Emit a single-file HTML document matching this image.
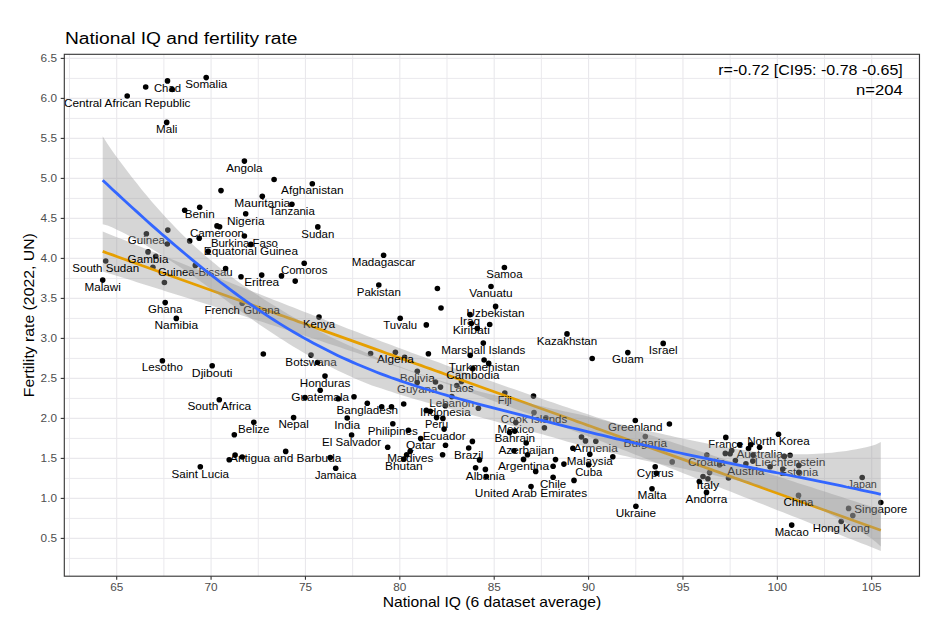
<!DOCTYPE html>
<html><head><meta charset="utf-8"><style>
html,body{margin:0;padding:0;background:#fff;}
svg{display:block;}
text{font-family:"Liberation Sans",sans-serif;}
</style></head><body>
<svg width="948" height="629" viewBox="0 0 948 629">
<rect x="0" y="0" width="948" height="629" fill="#fff"/>

<line x1="64.3" x2="919.5" y1="558.40" y2="558.40" stroke="#e9e8ec" stroke-width="0.95"/>
<line x1="64.3" x2="919.5" y1="538.40" y2="538.40" stroke="#e9e8ec" stroke-width="1.1"/>
<line x1="64.3" x2="919.5" y1="518.40" y2="518.40" stroke="#e9e8ec" stroke-width="0.95"/>
<line x1="64.3" x2="919.5" y1="498.40" y2="498.40" stroke="#e9e8ec" stroke-width="1.1"/>
<line x1="64.3" x2="919.5" y1="478.40" y2="478.40" stroke="#e9e8ec" stroke-width="0.95"/>
<line x1="64.3" x2="919.5" y1="458.40" y2="458.40" stroke="#e9e8ec" stroke-width="1.1"/>
<line x1="64.3" x2="919.5" y1="438.40" y2="438.40" stroke="#e9e8ec" stroke-width="0.95"/>
<line x1="64.3" x2="919.5" y1="418.40" y2="418.40" stroke="#e9e8ec" stroke-width="1.1"/>
<line x1="64.3" x2="919.5" y1="398.40" y2="398.40" stroke="#e9e8ec" stroke-width="0.95"/>
<line x1="64.3" x2="919.5" y1="378.40" y2="378.40" stroke="#e9e8ec" stroke-width="1.1"/>
<line x1="64.3" x2="919.5" y1="358.40" y2="358.40" stroke="#e9e8ec" stroke-width="0.95"/>
<line x1="64.3" x2="919.5" y1="338.40" y2="338.40" stroke="#e9e8ec" stroke-width="1.1"/>
<line x1="64.3" x2="919.5" y1="318.40" y2="318.40" stroke="#e9e8ec" stroke-width="0.95"/>
<line x1="64.3" x2="919.5" y1="298.40" y2="298.40" stroke="#e9e8ec" stroke-width="1.1"/>
<line x1="64.3" x2="919.5" y1="278.40" y2="278.40" stroke="#e9e8ec" stroke-width="0.95"/>
<line x1="64.3" x2="919.5" y1="258.40" y2="258.40" stroke="#e9e8ec" stroke-width="1.1"/>
<line x1="64.3" x2="919.5" y1="238.40" y2="238.40" stroke="#e9e8ec" stroke-width="0.95"/>
<line x1="64.3" x2="919.5" y1="218.40" y2="218.40" stroke="#e9e8ec" stroke-width="1.1"/>
<line x1="64.3" x2="919.5" y1="198.40" y2="198.40" stroke="#e9e8ec" stroke-width="0.95"/>
<line x1="64.3" x2="919.5" y1="178.40" y2="178.40" stroke="#e9e8ec" stroke-width="1.1"/>
<line x1="64.3" x2="919.5" y1="158.40" y2="158.40" stroke="#e9e8ec" stroke-width="0.95"/>
<line x1="64.3" x2="919.5" y1="138.40" y2="138.40" stroke="#e9e8ec" stroke-width="1.1"/>
<line x1="64.3" x2="919.5" y1="118.40" y2="118.40" stroke="#e9e8ec" stroke-width="0.95"/>
<line x1="64.3" x2="919.5" y1="98.40" y2="98.40" stroke="#e9e8ec" stroke-width="1.1"/>
<line x1="64.3" x2="919.5" y1="78.40" y2="78.40" stroke="#e9e8ec" stroke-width="0.95"/>
<line x1="64.3" x2="919.5" y1="58.40" y2="58.40" stroke="#e9e8ec" stroke-width="1.1"/>
<line x1="69.51" x2="69.51" y1="54.3" y2="576.2" stroke="#e9e8ec" stroke-width="0.95"/>
<line x1="116.70" x2="116.70" y1="54.3" y2="576.2" stroke="#e9e8ec" stroke-width="1.1"/>
<line x1="163.89" x2="163.89" y1="54.3" y2="576.2" stroke="#e9e8ec" stroke-width="0.95"/>
<line x1="211.07" x2="211.07" y1="54.3" y2="576.2" stroke="#e9e8ec" stroke-width="1.1"/>
<line x1="258.26" x2="258.26" y1="54.3" y2="576.2" stroke="#e9e8ec" stroke-width="0.95"/>
<line x1="305.45" x2="305.45" y1="54.3" y2="576.2" stroke="#e9e8ec" stroke-width="1.1"/>
<line x1="352.64" x2="352.64" y1="54.3" y2="576.2" stroke="#e9e8ec" stroke-width="0.95"/>
<line x1="399.82" x2="399.82" y1="54.3" y2="576.2" stroke="#e9e8ec" stroke-width="1.1"/>
<line x1="447.01" x2="447.01" y1="54.3" y2="576.2" stroke="#e9e8ec" stroke-width="0.95"/>
<line x1="494.20" x2="494.20" y1="54.3" y2="576.2" stroke="#e9e8ec" stroke-width="1.1"/>
<line x1="541.39" x2="541.39" y1="54.3" y2="576.2" stroke="#e9e8ec" stroke-width="0.95"/>
<line x1="588.58" x2="588.58" y1="54.3" y2="576.2" stroke="#e9e8ec" stroke-width="1.1"/>
<line x1="635.76" x2="635.76" y1="54.3" y2="576.2" stroke="#e9e8ec" stroke-width="0.95"/>
<line x1="682.95" x2="682.95" y1="54.3" y2="576.2" stroke="#e9e8ec" stroke-width="1.1"/>
<line x1="730.14" x2="730.14" y1="54.3" y2="576.2" stroke="#e9e8ec" stroke-width="0.95"/>
<line x1="777.33" x2="777.33" y1="54.3" y2="576.2" stroke="#e9e8ec" stroke-width="1.1"/>
<line x1="824.51" x2="824.51" y1="54.3" y2="576.2" stroke="#e9e8ec" stroke-width="0.95"/>
<line x1="871.70" x2="871.70" y1="54.3" y2="576.2" stroke="#e9e8ec" stroke-width="1.1"/>
<line x1="918.89" x2="918.89" y1="54.3" y2="576.2" stroke="#e9e8ec" stroke-width="0.95"/>
<defs><clipPath id="pc"><rect x="64.8" y="54.8" width="854.2" height="520.9"/></clipPath></defs><g clip-path="url(#pc)">
<circle cx="127.2" cy="96.0" r="2.8" fill="#000"/>
<circle cx="145.7" cy="87.0" r="2.8" fill="#000"/>
<circle cx="167.5" cy="80.9" r="2.8" fill="#000"/>
<circle cx="172.2" cy="89.5" r="2.8" fill="#000"/>
<circle cx="206.2" cy="77.6" r="2.8" fill="#000"/>
<circle cx="166.7" cy="122.4" r="2.8" fill="#000"/>
<circle cx="244.4" cy="161.1" r="2.8" fill="#000"/>
<circle cx="274.1" cy="179.5" r="2.8" fill="#000"/>
<circle cx="312.3" cy="183.7" r="2.8" fill="#000"/>
<circle cx="221.0" cy="190.6" r="2.8" fill="#000"/>
<circle cx="262.3" cy="196.3" r="2.8" fill="#000"/>
<circle cx="291.9" cy="204.3" r="2.8" fill="#000"/>
<circle cx="199.7" cy="207.3" r="2.8" fill="#000"/>
<circle cx="184.7" cy="210.3" r="2.8" fill="#000"/>
<circle cx="245.7" cy="213.8" r="2.8" fill="#000"/>
<circle cx="217.0" cy="225.9" r="2.8" fill="#000"/>
<circle cx="317.8" cy="226.9" r="2.8" fill="#000"/>
<circle cx="167.8" cy="230.1" r="2.8" fill="#000"/>
<circle cx="146.4" cy="233.7" r="2.8" fill="#000"/>
<circle cx="244.4" cy="236.0" r="2.8" fill="#000"/>
<circle cx="199.2" cy="238.2" r="2.8" fill="#000"/>
<circle cx="189.7" cy="240.9" r="2.8" fill="#000"/>
<circle cx="167.3" cy="244.0" r="2.8" fill="#000"/>
<circle cx="250.9" cy="244.4" r="2.8" fill="#000"/>
<circle cx="208.2" cy="251.4" r="2.8" fill="#000"/>
<circle cx="148.0" cy="251.9" r="2.8" fill="#000"/>
<circle cx="155.7" cy="256.2" r="2.8" fill="#000"/>
<circle cx="105.7" cy="261.0" r="2.8" fill="#000"/>
<circle cx="304.2" cy="263.3" r="2.8" fill="#000"/>
<circle cx="195.3" cy="265.4" r="2.8" fill="#000"/>
<circle cx="225.6" cy="268.5" r="2.8" fill="#000"/>
<circle cx="261.7" cy="275.1" r="2.8" fill="#000"/>
<circle cx="241.0" cy="276.7" r="2.8" fill="#000"/>
<circle cx="281.5" cy="275.9" r="2.8" fill="#000"/>
<circle cx="295.2" cy="281.1" r="2.8" fill="#000"/>
<circle cx="102.7" cy="280.1" r="2.8" fill="#000"/>
<circle cx="164.4" cy="282.5" r="2.8" fill="#000"/>
<circle cx="165.2" cy="302.6" r="2.8" fill="#000"/>
<circle cx="242.2" cy="303.3" r="2.8" fill="#000"/>
<circle cx="319.0" cy="317.1" r="2.8" fill="#000"/>
<circle cx="383.6" cy="255.3" r="2.8" fill="#000"/>
<circle cx="378.8" cy="285.0" r="2.8" fill="#000"/>
<circle cx="437.4" cy="288.5" r="2.8" fill="#000"/>
<circle cx="441.0" cy="308.0" r="2.8" fill="#000"/>
<circle cx="400.2" cy="318.3" r="2.8" fill="#000"/>
<circle cx="426.3" cy="324.9" r="2.8" fill="#000"/>
<circle cx="504.4" cy="267.5" r="2.8" fill="#000"/>
<circle cx="491.0" cy="286.5" r="2.8" fill="#000"/>
<circle cx="495.6" cy="306.4" r="2.8" fill="#000"/>
<circle cx="470.0" cy="314.6" r="2.8" fill="#000"/>
<circle cx="471.3" cy="323.5" r="2.8" fill="#000"/>
<circle cx="477.3" cy="328.3" r="2.8" fill="#000"/>
<circle cx="489.7" cy="324.5" r="2.8" fill="#000"/>
<circle cx="567.0" cy="333.9" r="2.8" fill="#000"/>
<circle cx="176.3" cy="318.4" r="2.8" fill="#000"/>
<circle cx="162.4" cy="360.7" r="2.8" fill="#000"/>
<circle cx="263.3" cy="354.0" r="2.8" fill="#000"/>
<circle cx="212.2" cy="365.8" r="2.8" fill="#000"/>
<circle cx="311.0" cy="355.1" r="2.8" fill="#000"/>
<circle cx="317.5" cy="362.5" r="2.8" fill="#000"/>
<circle cx="325.0" cy="376.1" r="2.8" fill="#000"/>
<circle cx="320.2" cy="390.3" r="2.8" fill="#000"/>
<circle cx="305.0" cy="397.5" r="2.8" fill="#000"/>
<circle cx="338.2" cy="398.8" r="2.8" fill="#000"/>
<circle cx="219.3" cy="399.7" r="2.8" fill="#000"/>
<circle cx="293.6" cy="417.6" r="2.8" fill="#000"/>
<circle cx="354.0" cy="396.7" r="2.8" fill="#000"/>
<circle cx="370.6" cy="353.5" r="2.8" fill="#000"/>
<circle cx="395.4" cy="352.2" r="2.8" fill="#000"/>
<circle cx="404.6" cy="357.4" r="2.8" fill="#000"/>
<circle cx="428.4" cy="353.8" r="2.8" fill="#000"/>
<circle cx="417.3" cy="371.2" r="2.8" fill="#000"/>
<circle cx="417.2" cy="382.6" r="2.8" fill="#000"/>
<circle cx="435.5" cy="382.0" r="2.8" fill="#000"/>
<circle cx="440.5" cy="387.1" r="2.8" fill="#000"/>
<circle cx="451.8" cy="396.6" r="2.8" fill="#000"/>
<circle cx="367.3" cy="403.3" r="2.8" fill="#000"/>
<circle cx="381.7" cy="406.8" r="2.8" fill="#000"/>
<circle cx="391.5" cy="406.8" r="2.8" fill="#000"/>
<circle cx="403.7" cy="404.0" r="2.8" fill="#000"/>
<circle cx="426.3" cy="410.4" r="2.8" fill="#000"/>
<circle cx="430.3" cy="411.2" r="2.8" fill="#000"/>
<circle cx="347.2" cy="418.0" r="2.8" fill="#000"/>
<circle cx="436.6" cy="417.6" r="2.8" fill="#000"/>
<circle cx="442.9" cy="418.4" r="2.8" fill="#000"/>
<circle cx="445.3" cy="405.7" r="2.8" fill="#000"/>
<circle cx="483.3" cy="343.1" r="2.8" fill="#000"/>
<circle cx="470.2" cy="355.3" r="2.8" fill="#000"/>
<circle cx="484.1" cy="360.0" r="2.8" fill="#000"/>
<circle cx="488.7" cy="363.4" r="2.8" fill="#000"/>
<circle cx="472.9" cy="368.6" r="2.8" fill="#000"/>
<circle cx="461.5" cy="381.4" r="2.8" fill="#000"/>
<circle cx="456.8" cy="385.5" r="2.8" fill="#000"/>
<circle cx="504.8" cy="393.0" r="2.8" fill="#000"/>
<circle cx="533.5" cy="396.1" r="2.8" fill="#000"/>
<circle cx="534.0" cy="412.6" r="2.8" fill="#000"/>
<circle cx="545.9" cy="417.8" r="2.8" fill="#000"/>
<circle cx="515.8" cy="422.6" r="2.8" fill="#000"/>
<circle cx="635.3" cy="420.5" r="2.8" fill="#000"/>
<circle cx="592.2" cy="358.5" r="2.8" fill="#000"/>
<circle cx="627.8" cy="352.6" r="2.8" fill="#000"/>
<circle cx="663.2" cy="343.4" r="2.8" fill="#000"/>
<circle cx="253.8" cy="422.2" r="2.8" fill="#000"/>
<circle cx="234.3" cy="434.8" r="2.8" fill="#000"/>
<circle cx="235.1" cy="455.1" r="2.8" fill="#000"/>
<circle cx="242.2" cy="457.0" r="2.8" fill="#000"/>
<circle cx="229.2" cy="459.8" r="2.8" fill="#000"/>
<circle cx="285.7" cy="451.4" r="2.8" fill="#000"/>
<circle cx="330.2" cy="457.6" r="2.8" fill="#000"/>
<circle cx="200.3" cy="466.8" r="2.8" fill="#000"/>
<circle cx="335.7" cy="468.2" r="2.8" fill="#000"/>
<circle cx="392.8" cy="423.8" r="2.8" fill="#000"/>
<circle cx="408.4" cy="430.2" r="2.8" fill="#000"/>
<circle cx="351.6" cy="435.0" r="2.8" fill="#000"/>
<circle cx="420.7" cy="438.6" r="2.8" fill="#000"/>
<circle cx="444.1" cy="429.1" r="2.8" fill="#000"/>
<circle cx="387.7" cy="447.2" r="2.8" fill="#000"/>
<circle cx="445.5" cy="445.3" r="2.8" fill="#000"/>
<circle cx="410.2" cy="451.2" r="2.8" fill="#000"/>
<circle cx="406.7" cy="454.8" r="2.8" fill="#000"/>
<circle cx="403.9" cy="459.1" r="2.8" fill="#000"/>
<circle cx="442.6" cy="454.8" r="2.8" fill="#000"/>
<circle cx="468.7" cy="448.0" r="2.8" fill="#000"/>
<circle cx="478.4" cy="408.2" r="2.8" fill="#000"/>
<circle cx="544.4" cy="427.8" r="2.8" fill="#000"/>
<circle cx="509.6" cy="432.5" r="2.8" fill="#000"/>
<circle cx="514.8" cy="431.1" r="2.8" fill="#000"/>
<circle cx="526.2" cy="443.0" r="2.8" fill="#000"/>
<circle cx="472.4" cy="441.4" r="2.8" fill="#000"/>
<circle cx="514.0" cy="450.7" r="2.8" fill="#000"/>
<circle cx="527.5" cy="454.8" r="2.8" fill="#000"/>
<circle cx="479.5" cy="459.9" r="2.8" fill="#000"/>
<circle cx="523.5" cy="459.4" r="2.8" fill="#000"/>
<circle cx="555.5" cy="459.6" r="2.8" fill="#000"/>
<circle cx="563.9" cy="464.1" r="2.8" fill="#000"/>
<circle cx="553.1" cy="466.2" r="2.8" fill="#000"/>
<circle cx="581.5" cy="437.0" r="2.8" fill="#000"/>
<circle cx="585.5" cy="440.9" r="2.8" fill="#000"/>
<circle cx="595.8" cy="441.2" r="2.8" fill="#000"/>
<circle cx="589.8" cy="454.3" r="2.8" fill="#000"/>
<circle cx="588.7" cy="464.8" r="2.8" fill="#000"/>
<circle cx="475.6" cy="467.8" r="2.8" fill="#000"/>
<circle cx="485.4" cy="469.4" r="2.8" fill="#000"/>
<circle cx="486.3" cy="476.5" r="2.8" fill="#000"/>
<circle cx="535.7" cy="471.4" r="2.8" fill="#000"/>
<circle cx="553.1" cy="477.3" r="2.8" fill="#000"/>
<circle cx="574.0" cy="480.4" r="2.8" fill="#000"/>
<circle cx="531.0" cy="486.5" r="2.8" fill="#000"/>
<circle cx="669.4" cy="424.0" r="2.8" fill="#000"/>
<circle cx="645.3" cy="436.6" r="2.8" fill="#000"/>
<circle cx="612.8" cy="456.7" r="2.8" fill="#000"/>
<circle cx="672.2" cy="461.9" r="2.8" fill="#000"/>
<circle cx="655.2" cy="466.7" r="2.8" fill="#000"/>
<circle cx="656.4" cy="473.3" r="2.8" fill="#000"/>
<circle cx="725.8" cy="437.4" r="2.8" fill="#000"/>
<circle cx="706.8" cy="455.0" r="2.8" fill="#000"/>
<circle cx="725.3" cy="453.4" r="2.8" fill="#000"/>
<circle cx="731.7" cy="450.6" r="2.8" fill="#000"/>
<circle cx="730.1" cy="453.8" r="2.8" fill="#000"/>
<circle cx="719.6" cy="465.0" r="2.8" fill="#000"/>
<circle cx="709.6" cy="472.6" r="2.8" fill="#000"/>
<circle cx="703.0" cy="476.5" r="2.8" fill="#000"/>
<circle cx="707.9" cy="478.7" r="2.8" fill="#000"/>
<circle cx="699.3" cy="481.5" r="2.8" fill="#000"/>
<circle cx="728.5" cy="478.0" r="2.8" fill="#000"/>
<circle cx="739.6" cy="444.8" r="2.8" fill="#000"/>
<circle cx="750.7" cy="444.8" r="2.8" fill="#000"/>
<circle cx="748.5" cy="448.5" r="2.8" fill="#000"/>
<circle cx="759.6" cy="447.2" r="2.8" fill="#000"/>
<circle cx="753.0" cy="455.0" r="2.8" fill="#000"/>
<circle cx="752.8" cy="461.1" r="2.8" fill="#000"/>
<circle cx="735.4" cy="460.6" r="2.8" fill="#000"/>
<circle cx="745.9" cy="463.8" r="2.8" fill="#000"/>
<circle cx="770.1" cy="466.7" r="2.8" fill="#000"/>
<circle cx="782.8" cy="469.1" r="2.8" fill="#000"/>
<circle cx="778.5" cy="434.2" r="2.8" fill="#000"/>
<circle cx="784.3" cy="456.4" r="2.8" fill="#000"/>
<circle cx="790.1" cy="455.3" r="2.8" fill="#000"/>
<circle cx="798.8" cy="465.4" r="2.8" fill="#000"/>
<circle cx="798.8" cy="472.2" r="2.8" fill="#000"/>
<circle cx="652.0" cy="488.7" r="2.8" fill="#000"/>
<circle cx="862.2" cy="477.5" r="2.8" fill="#000"/>
<circle cx="880.8" cy="502.5" r="2.8" fill="#000"/>
<circle cx="798.5" cy="495.4" r="2.8" fill="#000"/>
<circle cx="848.6" cy="508.4" r="2.8" fill="#000"/>
<circle cx="852.8" cy="515.6" r="2.8" fill="#000"/>
<circle cx="841.2" cy="521.5" r="2.8" fill="#000"/>
<circle cx="791.7" cy="525.1" r="2.8" fill="#000"/>
<circle cx="635.9" cy="506.2" r="2.8" fill="#000"/>
<circle cx="706.5" cy="492.4" r="2.8" fill="#000"/>
<circle cx="219.6" cy="226.8" r="2.8" fill="#000"/>
<circle cx="152.9" cy="267.2" r="2.8" fill="#000"/>
<circle cx="572.9" cy="448.3" r="2.8" fill="#000"/>
<path d="M102.7,231.4 L107.6,233.4 L112.5,235.4 L117.4,237.4 L122.3,239.3 L127.2,241.3 L132.1,243.3 L137.0,245.3 L141.8,247.2 L146.7,249.2 L151.6,251.2 L156.5,253.1 L161.4,255.1 L166.3,257.1 L171.2,259.0 L176.1,261.0 L181.0,263.0 L185.9,264.9 L190.8,266.9 L195.7,268.8 L200.6,270.8 L205.5,272.8 L210.4,274.7 L215.3,276.7 L220.1,278.6 L225.0,280.5 L229.9,282.5 L234.8,284.4 L239.7,286.4 L244.6,288.3 L249.5,290.2 L254.4,292.2 L259.3,294.1 L264.2,296.0 L269.1,298.0 L274.0,299.9 L278.9,301.8 L283.8,303.7 L288.7,305.7 L293.6,307.6 L298.4,309.5 L303.3,311.4 L308.2,313.3 L313.1,315.2 L318.0,317.1 L322.9,319.0 L327.8,320.9 L332.7,322.8 L337.6,324.6 L342.5,326.5 L347.4,328.4 L352.3,330.3 L357.2,332.1 L362.1,334.0 L367.0,335.9 L371.9,337.7 L376.7,339.6 L381.6,341.4 L386.5,343.2 L391.4,345.1 L396.3,346.9 L401.2,348.7 L406.1,350.5 L411.0,352.4 L415.9,354.2 L420.8,356.0 L425.7,357.8 L430.6,359.6 L435.5,361.3 L440.4,363.1 L445.3,364.9 L450.2,366.7 L455.0,368.4 L459.9,370.2 L464.8,371.9 L469.7,373.7 L474.6,375.4 L479.5,377.2 L484.4,378.9 L489.3,380.6 L494.2,382.3 L499.1,384.0 L504.0,385.7 L508.9,387.4 L513.8,389.1 L518.7,390.8 L523.6,392.5 L528.5,394.2 L533.3,395.9 L538.2,397.6 L543.1,399.2 L548.0,400.9 L552.9,402.6 L557.8,404.2 L562.7,405.9 L567.6,407.5 L572.5,409.2 L577.4,410.8 L582.3,412.5 L587.2,414.1 L592.1,415.7 L597.0,417.4 L601.9,419.0 L606.8,420.6 L611.6,422.3 L616.5,423.9 L621.4,425.5 L626.3,427.1 L631.2,428.7 L636.1,430.3 L641.0,432.0 L645.9,433.6 L650.8,435.2 L655.7,436.8 L660.6,438.4 L665.5,440.0 L670.4,441.6 L675.3,443.2 L680.2,444.8 L685.1,446.4 L689.9,448.0 L694.8,449.6 L699.7,451.2 L704.6,452.8 L709.5,454.3 L714.4,455.9 L719.3,457.5 L724.2,459.1 L729.1,460.7 L734.0,462.3 L738.9,463.9 L743.8,465.5 L748.7,467.0 L753.6,468.6 L758.5,470.2 L763.4,471.8 L768.2,473.4 L773.1,475.0 L778.0,476.5 L782.9,478.1 L787.8,479.7 L792.7,481.3 L797.6,482.9 L802.5,484.4 L807.4,486.0 L812.3,487.6 L817.2,489.2 L822.1,490.8 L827.0,492.3 L831.9,493.9 L836.8,495.5 L841.7,497.1 L846.5,498.7 L851.4,500.2 L856.3,501.8 L861.2,503.4 L866.1,505.0 L871.0,506.5 L875.9,508.1 L880.8,509.7 L880.8,550.9 L875.9,549.0 L871.0,547.0 L866.1,545.1 L861.2,543.2 L856.3,541.2 L851.4,539.3 L846.5,537.4 L841.7,535.4 L836.8,533.5 L831.9,531.6 L827.0,529.7 L822.1,527.7 L817.2,525.8 L812.3,523.9 L807.4,521.9 L802.5,520.0 L797.6,518.1 L792.7,516.2 L787.8,514.2 L782.9,512.3 L778.0,510.4 L773.1,508.4 L768.2,506.5 L763.4,504.6 L758.5,502.7 L753.6,500.8 L748.7,498.8 L743.8,496.9 L738.9,495.0 L734.0,493.1 L729.1,491.1 L724.2,489.2 L719.3,487.3 L714.4,485.4 L709.5,483.5 L704.6,481.6 L699.7,479.6 L694.8,477.7 L689.9,475.8 L685.1,473.9 L680.2,472.0 L675.3,470.1 L670.4,468.2 L665.5,466.3 L660.6,464.4 L655.7,462.5 L650.8,460.6 L645.9,458.7 L641.0,456.8 L636.1,454.9 L631.2,453.0 L626.3,451.1 L621.4,449.2 L616.5,447.3 L611.6,445.4 L606.8,443.5 L601.9,441.6 L597.0,439.8 L592.1,437.9 L587.2,436.0 L582.3,434.2 L577.4,432.3 L572.5,430.4 L567.6,428.6 L562.7,426.7 L557.8,424.9 L552.9,423.0 L548.0,421.2 L543.1,419.3 L538.2,417.5 L533.3,415.6 L528.5,413.8 L523.6,412.0 L518.7,410.2 L513.8,408.4 L508.9,406.6 L504.0,404.7 L499.1,402.9 L494.2,401.2 L489.3,399.4 L484.4,397.6 L479.5,395.8 L474.6,394.0 L469.7,392.3 L464.8,390.5 L459.9,388.7 L455.0,387.0 L450.2,385.3 L445.3,383.5 L440.4,381.8 L435.5,380.1 L430.6,378.3 L425.7,376.6 L420.8,374.9 L415.9,373.2 L411.0,371.5 L406.1,369.8 L401.2,368.1 L396.3,366.4 L391.4,364.8 L386.5,363.1 L381.6,361.4 L376.7,359.7 L371.9,358.1 L367.0,356.4 L362.1,354.8 L357.2,353.1 L352.3,351.5 L347.4,349.9 L342.5,348.2 L337.6,346.6 L332.7,345.0 L327.8,343.4 L322.9,341.7 L318.0,340.1 L313.1,338.5 L308.2,336.9 L303.3,335.3 L298.4,333.7 L293.6,332.1 L288.7,330.5 L283.8,328.9 L278.9,327.3 L274.0,325.7 L269.1,324.2 L264.2,322.6 L259.3,321.0 L254.4,319.4 L249.5,317.9 L244.6,316.3 L239.7,314.7 L234.8,313.1 L229.9,311.6 L225.0,310.0 L220.1,308.5 L215.3,306.9 L210.4,305.3 L205.5,303.8 L200.6,302.2 L195.7,300.7 L190.8,299.1 L185.9,297.6 L181.0,296.0 L176.1,294.5 L171.2,292.9 L166.3,291.4 L161.4,289.8 L156.5,288.3 L151.6,286.8 L146.7,285.2 L141.8,283.7 L137.0,282.2 L132.1,280.6 L127.2,279.1 L122.3,277.6 L117.4,276.0 L112.5,274.5 L107.6,273.0 L102.7,271.4Z" fill="#999999" fill-opacity="0.4"/>
<path d="M102.7,251.4 L107.6,253.2 L112.5,254.9 L117.4,256.7 L122.3,258.5 L127.2,260.2 L132.1,262.0 L137.0,263.7 L141.8,265.5 L146.7,267.2 L151.6,269.0 L156.5,270.7 L161.4,272.5 L166.3,274.2 L171.2,276.0 L176.1,277.7 L181.0,279.5 L185.9,281.3 L190.8,283.0 L195.7,284.8 L200.6,286.5 L205.5,288.3 L210.4,290.0 L215.3,291.8 L220.1,293.5 L225.0,295.3 L229.9,297.0 L234.8,298.8 L239.7,300.5 L244.6,302.3 L249.5,304.0 L254.4,305.8 L259.3,307.6 L264.2,309.3 L269.1,311.1 L274.0,312.8 L278.9,314.6 L283.8,316.3 L288.7,318.1 L293.6,319.8 L298.4,321.6 L303.3,323.3 L308.2,325.1 L313.1,326.8 L318.0,328.6 L322.9,330.4 L327.8,332.1 L332.7,333.9 L337.6,335.6 L342.5,337.4 L347.4,339.1 L352.3,340.9 L357.2,342.6 L362.1,344.4 L367.0,346.1 L371.9,347.9 L376.7,349.6 L381.6,351.4 L386.5,353.2 L391.4,354.9 L396.3,356.7 L401.2,358.4 L406.1,360.2 L411.0,361.9 L415.9,363.7 L420.8,365.4 L425.7,367.2 L430.6,368.9 L435.5,370.7 L440.4,372.4 L445.3,374.2 L450.2,376.0 L455.0,377.7 L459.9,379.5 L464.8,381.2 L469.7,383.0 L474.6,384.7 L479.5,386.5 L484.4,388.2 L489.3,390.0 L494.2,391.7 L499.1,393.5 L504.0,395.2 L508.9,397.0 L513.8,398.8 L518.7,400.5 L523.6,402.3 L528.5,404.0 L533.3,405.8 L538.2,407.5 L543.1,409.3 L548.0,411.0 L552.9,412.8 L557.8,414.5 L562.7,416.3 L567.6,418.0 L572.5,419.8 L577.4,421.6 L582.3,423.3 L587.2,425.1 L592.1,426.8 L597.0,428.6 L601.9,430.3 L606.8,432.1 L611.6,433.8 L616.5,435.6 L621.4,437.3 L626.3,439.1 L631.2,440.8 L636.1,442.6 L641.0,444.4 L645.9,446.1 L650.8,447.9 L655.7,449.6 L660.6,451.4 L665.5,453.1 L670.4,454.9 L675.3,456.6 L680.2,458.4 L685.1,460.1 L689.9,461.9 L694.8,463.6 L699.7,465.4 L704.6,467.2 L709.5,468.9 L714.4,470.7 L719.3,472.4 L724.2,474.2 L729.1,475.9 L734.0,477.7 L738.9,479.4 L743.8,481.2 L748.7,482.9 L753.6,484.7 L758.5,486.4 L763.4,488.2 L768.2,490.0 L773.1,491.7 L778.0,493.5 L782.9,495.2 L787.8,497.0 L792.7,498.7 L797.6,500.5 L802.5,502.2 L807.4,504.0 L812.3,505.7 L817.2,507.5 L822.1,509.2 L827.0,511.0 L831.9,512.8 L836.8,514.5 L841.7,516.3 L846.5,518.0 L851.4,519.8 L856.3,521.5 L861.2,523.3 L866.1,525.0 L871.0,526.8 L875.9,528.5 L880.8,530.3" fill="none" stroke="#E69F00" stroke-width="2.8"/>
<text x="127.2" y="106.7" font-size="11" text-anchor="middle" textLength="126.4" lengthAdjust="spacingAndGlyphs" fill="#000">Central African Republic</text>
<text x="167.5" y="91.6" font-size="11" text-anchor="middle" textLength="27.1" lengthAdjust="spacingAndGlyphs" fill="#000">Chad</text>
<text x="206.2" y="88.3" font-size="11" text-anchor="middle" textLength="42.0" lengthAdjust="spacingAndGlyphs" fill="#000">Somalia</text>
<text x="166.7" y="133.1" font-size="11" text-anchor="middle" textLength="21.3" lengthAdjust="spacingAndGlyphs" fill="#000">Mali</text>
<text x="244.4" y="171.8" font-size="11" text-anchor="middle" textLength="36.3" lengthAdjust="spacingAndGlyphs" fill="#000">Angola</text>
<text x="312.3" y="194.4" font-size="11" text-anchor="middle" textLength="62.5" lengthAdjust="spacingAndGlyphs" fill="#000">Afghanistan</text>
<text x="262.3" y="207.0" font-size="11" text-anchor="middle" textLength="55.9" lengthAdjust="spacingAndGlyphs" fill="#000">Mauritania</text>
<text x="291.9" y="215.0" font-size="11" text-anchor="middle" textLength="45.7" lengthAdjust="spacingAndGlyphs" fill="#000">Tanzania</text>
<text x="199.7" y="218.0" font-size="11" text-anchor="middle" textLength="29.9" lengthAdjust="spacingAndGlyphs" fill="#000">Benin</text>
<text x="245.7" y="224.5" font-size="11" text-anchor="middle" textLength="37.6" lengthAdjust="spacingAndGlyphs" fill="#000">Nigeria</text>
<text x="217.0" y="236.6" font-size="11" text-anchor="middle" textLength="54.0" lengthAdjust="spacingAndGlyphs" fill="#000">Cameroon</text>
<text x="317.8" y="237.6" font-size="11" text-anchor="middle" textLength="33.1" lengthAdjust="spacingAndGlyphs" fill="#000">Sudan</text>
<text x="146.4" y="244.4" font-size="11" text-anchor="middle" textLength="37.3" lengthAdjust="spacingAndGlyphs" fill="#000">Guinea</text>
<text x="244.4" y="246.7" font-size="11" text-anchor="middle" textLength="67.0" lengthAdjust="spacingAndGlyphs" fill="#000">Burkina Faso</text>
<text x="250.9" y="255.1" font-size="11" text-anchor="middle" textLength="94.1" lengthAdjust="spacingAndGlyphs" fill="#000">Equatorial Guinea</text>
<text x="148.0" y="262.6" font-size="11" text-anchor="middle" textLength="40.8" lengthAdjust="spacingAndGlyphs" fill="#000">Gambia</text>
<text x="105.7" y="271.7" font-size="11" text-anchor="middle" textLength="66.9" lengthAdjust="spacingAndGlyphs" fill="#000">South Sudan</text>
<text x="304.2" y="274.0" font-size="11" text-anchor="middle" textLength="46.4" lengthAdjust="spacingAndGlyphs" fill="#000">Comoros</text>
<text x="195.3" y="276.1" font-size="11" text-anchor="middle" textLength="74.8" lengthAdjust="spacingAndGlyphs" fill="#000">Guinea-Bissau</text>
<text x="261.7" y="285.8" font-size="11" text-anchor="middle" textLength="35.0" lengthAdjust="spacingAndGlyphs" fill="#000">Eritrea</text>
<text x="102.7" y="290.8" font-size="11" text-anchor="middle" textLength="36.3" lengthAdjust="spacingAndGlyphs" fill="#000">Malawi</text>
<text x="165.2" y="313.3" font-size="11" text-anchor="middle" textLength="34.3" lengthAdjust="spacingAndGlyphs" fill="#000">Ghana</text>
<text x="242.2" y="314.0" font-size="11" text-anchor="middle" textLength="75.5" lengthAdjust="spacingAndGlyphs" fill="#000">French Guiana</text>
<text x="319.0" y="327.8" font-size="11" text-anchor="middle" textLength="32.1" lengthAdjust="spacingAndGlyphs" fill="#000">Kenya</text>
<text x="383.6" y="266.0" font-size="11" text-anchor="middle" textLength="63.7" lengthAdjust="spacingAndGlyphs" fill="#000">Madagascar</text>
<text x="378.8" y="295.7" font-size="11" text-anchor="middle" textLength="44.0" lengthAdjust="spacingAndGlyphs" fill="#000">Pakistan</text>
<text x="400.2" y="329.0" font-size="11" text-anchor="middle" textLength="33.7" lengthAdjust="spacingAndGlyphs" fill="#000">Tuvalu</text>
<text x="504.4" y="278.2" font-size="11" text-anchor="middle" textLength="36.2" lengthAdjust="spacingAndGlyphs" fill="#000">Samoa</text>
<text x="491.0" y="297.2" font-size="11" text-anchor="middle" textLength="43.3" lengthAdjust="spacingAndGlyphs" fill="#000">Vanuatu</text>
<text x="495.6" y="317.1" font-size="11" text-anchor="middle" textLength="58.0" lengthAdjust="spacingAndGlyphs" fill="#000">Uzbekistan</text>
<text x="470.0" y="325.3" font-size="11" text-anchor="middle" textLength="20.5" lengthAdjust="spacingAndGlyphs" fill="#000">Iraq</text>
<text x="471.3" y="334.2" font-size="11" text-anchor="middle" textLength="37.2" lengthAdjust="spacingAndGlyphs" fill="#000">Kiribati</text>
<text x="567.0" y="344.6" font-size="11" text-anchor="middle" textLength="60.5" lengthAdjust="spacingAndGlyphs" fill="#000">Kazakhstan</text>
<text x="176.3" y="329.1" font-size="11" text-anchor="middle" textLength="43.5" lengthAdjust="spacingAndGlyphs" fill="#000">Namibia</text>
<text x="162.4" y="371.4" font-size="11" text-anchor="middle" textLength="41.2" lengthAdjust="spacingAndGlyphs" fill="#000">Lesotho</text>
<text x="212.2" y="376.5" font-size="11" text-anchor="middle" textLength="40.7" lengthAdjust="spacingAndGlyphs" fill="#000">Djibouti</text>
<text x="311.0" y="365.8" font-size="11" text-anchor="middle" textLength="51.3" lengthAdjust="spacingAndGlyphs" fill="#000">Botswana</text>
<text x="325.0" y="386.8" font-size="11" text-anchor="middle" textLength="50.5" lengthAdjust="spacingAndGlyphs" fill="#000">Honduras</text>
<text x="320.2" y="401.0" font-size="11" text-anchor="middle" textLength="57.8" lengthAdjust="spacingAndGlyphs" fill="#000">Guatemala</text>
<text x="219.3" y="410.4" font-size="11" text-anchor="middle" textLength="63.8" lengthAdjust="spacingAndGlyphs" fill="#000">South Africa</text>
<text x="293.6" y="428.3" font-size="11" text-anchor="middle" textLength="30.3" lengthAdjust="spacingAndGlyphs" fill="#000">Nepal</text>
<text x="395.4" y="362.9" font-size="11" text-anchor="middle" textLength="36.9" lengthAdjust="spacingAndGlyphs" fill="#000">Algeria</text>
<text x="417.3" y="381.9" font-size="11" text-anchor="middle" textLength="35.0" lengthAdjust="spacingAndGlyphs" fill="#000">Bolivia</text>
<text x="417.2" y="393.3" font-size="11" text-anchor="middle" textLength="40.5" lengthAdjust="spacingAndGlyphs" fill="#000">Guyana</text>
<text x="451.8" y="407.3" font-size="11" text-anchor="middle" textLength="45.0" lengthAdjust="spacingAndGlyphs" fill="#000">Lebanon</text>
<text x="367.3" y="414.0" font-size="11" text-anchor="middle" textLength="61.6" lengthAdjust="spacingAndGlyphs" fill="#000">Bangladesh</text>
<text x="347.2" y="428.7" font-size="11" text-anchor="middle" textLength="25.8" lengthAdjust="spacingAndGlyphs" fill="#000">India</text>
<text x="436.6" y="428.3" font-size="11" text-anchor="middle" textLength="23.4" lengthAdjust="spacingAndGlyphs" fill="#000">Peru</text>
<text x="445.3" y="416.4" font-size="11" text-anchor="middle" textLength="50.8" lengthAdjust="spacingAndGlyphs" fill="#000">Indonesia</text>
<text x="483.3" y="353.8" font-size="11" text-anchor="middle" textLength="84.2" lengthAdjust="spacingAndGlyphs" fill="#000">Marshall Islands</text>
<text x="484.1" y="370.7" font-size="11" text-anchor="middle" textLength="70.8" lengthAdjust="spacingAndGlyphs" fill="#000">Turkmenistan</text>
<text x="472.9" y="379.3" font-size="11" text-anchor="middle" textLength="53.1" lengthAdjust="spacingAndGlyphs" fill="#000">Cambodia</text>
<text x="461.5" y="392.1" font-size="11" text-anchor="middle" textLength="24.2" lengthAdjust="spacingAndGlyphs" fill="#000">Laos</text>
<text x="504.8" y="403.7" font-size="11" text-anchor="middle" textLength="14.0" lengthAdjust="spacingAndGlyphs" fill="#000">Fiji</text>
<text x="534.0" y="423.3" font-size="11" text-anchor="middle" textLength="66.3" lengthAdjust="spacingAndGlyphs" fill="#000">Cook Islands</text>
<text x="515.8" y="433.3" font-size="11" text-anchor="middle" textLength="36.7" lengthAdjust="spacingAndGlyphs" fill="#000">Mexico</text>
<text x="635.3" y="431.2" font-size="11" text-anchor="middle" textLength="54.5" lengthAdjust="spacingAndGlyphs" fill="#000">Greenland</text>
<text x="627.8" y="363.3" font-size="11" text-anchor="middle" textLength="31.5" lengthAdjust="spacingAndGlyphs" fill="#000">Guam</text>
<text x="663.2" y="354.1" font-size="11" text-anchor="middle" textLength="28.7" lengthAdjust="spacingAndGlyphs" fill="#000">Israel</text>
<text x="253.8" y="432.9" font-size="11" text-anchor="middle" textLength="31.5" lengthAdjust="spacingAndGlyphs" fill="#000">Belize</text>
<text x="285.7" y="462.1" font-size="11" text-anchor="middle" textLength="111.4" lengthAdjust="spacingAndGlyphs" fill="#000">Antigua and Barbuda</text>
<text x="200.3" y="477.5" font-size="11" text-anchor="middle" textLength="57.6" lengthAdjust="spacingAndGlyphs" fill="#000">Saint Lucia</text>
<text x="335.7" y="478.9" font-size="11" text-anchor="middle" textLength="41.3" lengthAdjust="spacingAndGlyphs" fill="#000">Jamaica</text>
<text x="392.8" y="434.5" font-size="11" text-anchor="middle" textLength="49.9" lengthAdjust="spacingAndGlyphs" fill="#000">Philipines</text>
<text x="351.6" y="445.7" font-size="11" text-anchor="middle" textLength="59.0" lengthAdjust="spacingAndGlyphs" fill="#000">El Salvador</text>
<text x="420.7" y="449.3" font-size="11" text-anchor="middle" textLength="29.6" lengthAdjust="spacingAndGlyphs" fill="#000">Qatar</text>
<text x="444.1" y="439.8" font-size="11" text-anchor="middle" textLength="42.9" lengthAdjust="spacingAndGlyphs" fill="#000">Ecuador</text>
<text x="410.2" y="461.9" font-size="11" text-anchor="middle" textLength="46.1" lengthAdjust="spacingAndGlyphs" fill="#000">Maldives</text>
<text x="403.9" y="469.8" font-size="11" text-anchor="middle" textLength="37.7" lengthAdjust="spacingAndGlyphs" fill="#000">Bhutan</text>
<text x="468.7" y="458.7" font-size="11" text-anchor="middle" textLength="29.3" lengthAdjust="spacingAndGlyphs" fill="#000">Brazil</text>
<text x="514.8" y="441.8" font-size="11" text-anchor="middle" textLength="40.6" lengthAdjust="spacingAndGlyphs" fill="#000">Bahrain</text>
<text x="526.2" y="453.7" font-size="11" text-anchor="middle" textLength="55.5" lengthAdjust="spacingAndGlyphs" fill="#000">Azerbaijan</text>
<text x="523.5" y="470.1" font-size="11" text-anchor="middle" textLength="51.2" lengthAdjust="spacingAndGlyphs" fill="#000">Argentina</text>
<text x="595.8" y="451.9" font-size="11" text-anchor="middle" textLength="44.0" lengthAdjust="spacingAndGlyphs" fill="#000">Armenia</text>
<text x="589.8" y="465.0" font-size="11" text-anchor="middle" textLength="45.9" lengthAdjust="spacingAndGlyphs" fill="#000">Malaysia</text>
<text x="588.7" y="475.5" font-size="11" text-anchor="middle" textLength="27.1" lengthAdjust="spacingAndGlyphs" fill="#000">Cuba</text>
<text x="485.4" y="480.1" font-size="11" text-anchor="middle" textLength="39.2" lengthAdjust="spacingAndGlyphs" fill="#000">Albania</text>
<text x="553.1" y="488.0" font-size="11" text-anchor="middle" textLength="26.3" lengthAdjust="spacingAndGlyphs" fill="#000">Chile</text>
<text x="531.0" y="497.2" font-size="11" text-anchor="middle" textLength="112.3" lengthAdjust="spacingAndGlyphs" fill="#000">United Arab Emirates</text>
<text x="645.3" y="447.3" font-size="11" text-anchor="middle" textLength="43.5" lengthAdjust="spacingAndGlyphs" fill="#000">Bulgaria</text>
<text x="655.2" y="477.4" font-size="11" text-anchor="middle" textLength="36.7" lengthAdjust="spacingAndGlyphs" fill="#000">Cyprus</text>
<text x="725.8" y="448.1" font-size="11" text-anchor="middle" textLength="34.9" lengthAdjust="spacingAndGlyphs" fill="#000">France</text>
<text x="706.8" y="465.7" font-size="11" text-anchor="middle" textLength="37.7" lengthAdjust="spacingAndGlyphs" fill="#000">Croatia</text>
<text x="707.9" y="489.4" font-size="11" text-anchor="middle" textLength="22.8" lengthAdjust="spacingAndGlyphs" fill="#000">Italy</text>
<text x="759.6" y="457.9" font-size="11" text-anchor="middle" textLength="46.4" lengthAdjust="spacingAndGlyphs" fill="#000">Australia</text>
<text x="745.9" y="474.5" font-size="11" text-anchor="middle" textLength="37.1" lengthAdjust="spacingAndGlyphs" fill="#000">Austria</text>
<text x="778.5" y="444.9" font-size="11" text-anchor="middle" textLength="62.5" lengthAdjust="spacingAndGlyphs" fill="#000">North Korea</text>
<text x="790.1" y="466.0" font-size="11" text-anchor="middle" textLength="70.5" lengthAdjust="spacingAndGlyphs" fill="#000">Liechtenstein</text>
<text x="798.8" y="476.1" font-size="11" text-anchor="middle" textLength="38.7" lengthAdjust="spacingAndGlyphs" fill="#000">Estonia</text>
<text x="652.0" y="499.4" font-size="11" text-anchor="middle" textLength="29.0" lengthAdjust="spacingAndGlyphs" fill="#000">Malta</text>
<text x="862.2" y="488.2" font-size="11" text-anchor="middle" textLength="29.3" lengthAdjust="spacingAndGlyphs" fill="#000">Japan</text>
<text x="880.8" y="513.2" font-size="11" text-anchor="middle" textLength="53.0" lengthAdjust="spacingAndGlyphs" fill="#000">Singapore</text>
<text x="798.5" y="506.1" font-size="11" text-anchor="middle" textLength="30.0" lengthAdjust="spacingAndGlyphs" fill="#000">China</text>
<text x="841.2" y="532.2" font-size="11" text-anchor="middle" textLength="57.1" lengthAdjust="spacingAndGlyphs" fill="#000">Hong Kong</text>
<text x="791.7" y="535.8" font-size="11" text-anchor="middle" textLength="34.1" lengthAdjust="spacingAndGlyphs" fill="#000">Macao</text>
<text x="635.9" y="516.9" font-size="11" text-anchor="middle" textLength="40.5" lengthAdjust="spacingAndGlyphs" fill="#000">Ukraine</text>
<text x="706.5" y="503.1" font-size="11" text-anchor="middle" textLength="41.8" lengthAdjust="spacingAndGlyphs" fill="#000">Andorra</text>
<path d="M102.7,136.2 L107.6,144.1 L112.5,151.2 L117.4,158.0 L122.3,164.6 L127.2,171.1 L132.1,177.4 L137.0,183.6 L141.8,189.7 L146.7,195.6 L151.6,201.4 L156.5,207.0 L161.4,212.5 L166.3,217.9 L171.2,223.1 L176.1,228.2 L181.0,233.2 L185.9,238.0 L190.8,242.7 L195.7,247.2 L200.6,251.6 L205.5,255.9 L210.4,260.1 L215.3,264.1 L220.1,268.1 L225.0,271.9 L229.9,275.6 L234.8,279.3 L239.7,282.8 L244.6,286.3 L249.5,289.7 L254.4,293.0 L259.3,296.2 L264.2,299.4 L269.1,302.5 L274.0,305.6 L278.9,308.6 L283.8,311.6 L288.7,314.5 L293.6,317.3 L298.4,320.1 L303.3,322.8 L308.2,325.5 L313.1,328.1 L318.0,330.6 L322.9,333.1 L327.8,335.6 L332.7,337.9 L337.6,340.3 L342.5,342.5 L347.4,344.8 L352.3,347.0 L357.2,349.0 L362.1,351.1 L367.0,353.0 L371.9,355.1 L376.7,357.4 L381.6,359.5 L386.5,361.6 L391.4,363.5 L396.3,365.4 L401.2,367.1 L406.1,369.0 L411.0,370.7 L415.9,372.5 L420.8,374.2 L425.7,375.9 L430.6,377.6 L435.5,379.2 L440.4,380.7 L445.3,382.2 L450.2,383.5 L455.0,384.9 L459.9,386.3 L464.8,387.7 L469.7,389.0 L474.6,390.2 L479.5,391.5 L484.4,392.8 L489.3,394.0 L494.2,395.1 L499.1,396.3 L504.0,397.5 L508.9,398.8 L513.8,399.9 L518.7,401.1 L523.6,402.1 L528.5,403.2 L533.3,404.3 L538.2,405.4 L543.1,406.6 L548.0,407.8 L552.9,408.9 L557.8,409.8 L562.7,410.9 L567.6,411.9 L572.5,413.0 L577.4,414.0 L582.3,415.1 L587.2,416.3 L592.1,417.5 L597.0,418.7 L601.9,419.9 L606.8,421.1 L611.6,422.3 L616.5,423.5 L621.4,424.6 L626.3,425.8 L631.2,426.9 L636.1,428.1 L641.0,429.2 L645.9,430.3 L650.8,431.4 L655.7,432.5 L660.6,433.6 L665.5,434.7 L670.4,435.8 L675.3,436.9 L680.2,437.9 L685.1,439.0 L689.9,440.0 L694.8,441.1 L699.7,442.1 L704.6,443.1 L709.5,444.1 L714.4,445.0 L719.3,446.0 L724.2,446.9 L729.1,447.7 L734.0,448.6 L738.9,449.4 L743.8,450.1 L748.7,450.8 L753.6,451.4 L758.5,452.0 L763.4,452.5 L768.2,453.0 L773.1,453.3 L778.0,453.7 L782.9,453.9 L787.8,454.1 L792.7,454.2 L797.6,454.3 L802.5,454.3 L807.4,454.2 L812.3,454.0 L817.2,453.8 L822.1,453.5 L827.0,453.1 L831.9,452.7 L836.8,452.1 L841.7,451.5 L846.5,450.9 L851.4,450.1 L856.3,449.2 L861.2,448.3 L866.1,447.2 L871.0,446.0 L875.9,444.5 L880.8,442.1 L880.8,546.4 L875.9,541.9 L871.0,538.3 L866.1,535.0 L861.2,531.8 L856.3,528.8 L851.4,525.9 L846.5,523.1 L841.7,520.3 L836.8,517.7 L831.9,515.2 L827.0,512.7 L822.1,510.3 L817.2,508.0 L812.3,505.8 L807.4,503.7 L802.5,501.6 L797.6,499.6 L792.7,497.7 L787.8,495.8 L782.9,494.1 L778.0,492.4 L773.1,490.7 L768.2,489.2 L763.4,487.7 L758.5,486.2 L753.6,484.8 L748.7,483.5 L743.8,482.2 L738.9,481.0 L734.0,479.8 L729.1,478.6 L724.2,477.5 L719.3,476.4 L714.4,475.3 L709.5,474.3 L704.6,473.2 L699.7,472.2 L694.8,471.2 L689.9,470.2 L685.1,469.1 L680.2,468.1 L675.3,467.1 L670.4,466.1 L665.5,465.0 L660.6,464.0 L655.7,462.9 L650.8,461.8 L645.9,460.8 L641.0,459.7 L636.1,458.6 L631.2,457.4 L626.3,456.3 L621.4,455.2 L616.5,454.0 L611.6,452.9 L606.8,451.7 L601.9,450.6 L597.0,449.4 L592.1,448.2 L587.2,447.0 L582.3,445.7 L577.4,444.5 L572.5,443.0 L567.6,441.7 L562.7,440.2 L557.8,438.8 L552.9,437.2 L548.0,435.9 L543.1,434.6 L538.2,433.3 L533.3,432.0 L528.5,430.5 L523.6,429.1 L518.7,427.7 L513.8,426.3 L508.9,425.0 L504.0,423.8 L499.1,422.5 L494.2,421.1 L489.3,419.8 L484.4,418.4 L479.5,417.1 L474.6,415.8 L469.7,414.4 L464.8,413.1 L459.9,411.7 L455.0,410.5 L450.2,409.1 L445.3,407.6 L440.4,406.2 L435.5,404.8 L430.6,403.5 L425.7,402.2 L420.8,400.8 L415.9,399.4 L411.0,398.0 L406.1,396.5 L401.2,395.0 L396.3,393.4 L391.4,391.8 L386.5,390.2 L381.6,388.6 L376.7,387.0 L371.9,385.4 L367.0,383.6 L362.1,381.5 L357.2,379.4 L352.3,377.2 L347.4,375.0 L342.5,372.8 L337.6,370.5 L332.7,368.1 L327.8,365.6 L322.9,363.1 L318.0,360.5 L313.1,357.9 L308.2,355.2 L303.3,352.4 L298.4,349.6 L293.6,346.7 L288.7,343.7 L283.8,340.6 L278.9,337.5 L274.0,334.3 L269.1,331.1 L264.2,327.8 L259.3,324.4 L254.4,321.0 L249.5,317.5 L244.6,313.9 L239.7,310.4 L234.8,306.8 L229.9,303.2 L225.0,299.5 L220.1,295.9 L215.3,292.3 L210.4,288.7 L205.5,285.1 L200.6,281.5 L195.7,278.0 L190.8,274.5 L185.9,271.1 L181.0,267.7 L176.1,264.4 L171.2,261.2 L166.3,258.0 L161.4,254.8 L156.5,251.8 L151.6,248.8 L146.7,245.8 L141.8,243.0 L137.0,240.2 L132.1,237.5 L127.2,234.8 L122.3,232.3 L117.4,229.9 L112.5,227.6 L107.6,225.5 L102.7,224.2Z" fill="#999999" fill-opacity="0.4"/>
<path d="M102.7,180.2 L107.6,184.8 L112.5,189.4 L117.4,193.9 L122.3,198.5 L127.2,203.0 L132.1,207.5 L137.0,211.9 L141.8,216.3 L146.7,220.7 L151.6,225.1 L156.5,229.4 L161.4,233.7 L166.3,237.9 L171.2,242.1 L176.1,246.3 L181.0,250.4 L185.9,254.5 L190.8,258.6 L195.7,262.6 L200.6,266.6 L205.5,270.5 L210.4,274.4 L215.3,278.2 L220.1,282.0 L225.0,285.7 L229.9,289.4 L234.8,293.0 L239.7,296.6 L244.6,300.1 L249.5,303.6 L254.4,307.0 L259.3,310.3 L264.2,313.6 L269.1,316.8 L274.0,320.0 L278.9,323.1 L283.8,326.1 L288.7,329.1 L293.6,332.0 L298.4,334.8 L303.3,337.6 L308.2,340.3 L313.1,343.0 L318.0,345.6 L322.9,348.1 L327.8,350.6 L332.7,353.0 L337.6,355.4 L342.5,357.7 L347.4,359.9 L352.3,362.1 L357.2,364.2 L362.1,366.3 L367.0,368.3 L371.9,370.3 L376.7,372.2 L381.6,374.1 L386.5,375.9 L391.4,377.7 L396.3,379.4 L401.2,381.1 L406.1,382.8 L411.0,384.4 L415.9,386.0 L420.8,387.5 L425.7,389.0 L430.6,390.5 L435.5,392.0 L440.4,393.5 L445.3,394.9 L450.2,396.3 L455.0,397.7 L459.9,399.0 L464.8,400.4 L469.7,401.7 L474.6,403.0 L479.5,404.3 L484.4,405.6 L489.3,406.9 L494.2,408.1 L499.1,409.4 L504.0,410.6 L508.9,411.9 L513.8,413.1 L518.7,414.4 L523.6,415.6 L528.5,416.9 L533.3,418.1 L538.2,419.4 L543.1,420.6 L548.0,421.9 L552.9,423.1 L557.8,424.3 L562.7,425.6 L567.6,426.8 L572.5,428.0 L577.4,429.2 L582.3,430.4 L587.2,431.7 L592.1,432.9 L597.0,434.1 L601.9,435.2 L606.8,436.4 L611.6,437.6 L616.5,438.8 L621.4,439.9 L626.3,441.1 L631.2,442.2 L636.1,443.3 L641.0,444.4 L645.9,445.5 L650.8,446.6 L655.7,447.7 L660.6,448.8 L665.5,449.9 L670.4,450.9 L675.3,452.0 L680.2,453.0 L685.1,454.1 L689.9,455.1 L694.8,456.1 L699.7,457.1 L704.6,458.2 L709.5,459.2 L714.4,460.2 L719.3,461.2 L724.2,462.2 L729.1,463.2 L734.0,464.2 L738.9,465.2 L743.8,466.1 L748.7,467.1 L753.6,468.1 L758.5,469.1 L763.4,470.1 L768.2,471.1 L773.1,472.0 L778.0,473.0 L782.9,474.0 L787.8,475.0 L792.7,476.0 L797.6,477.0 L802.5,477.9 L807.4,478.9 L812.3,479.9 L817.2,480.9 L822.1,481.9 L827.0,482.9 L831.9,483.9 L836.8,484.9 L841.7,485.9 L846.5,487.0 L851.4,488.0 L856.3,489.0 L861.2,490.1 L866.1,491.1 L871.0,492.2 L875.9,493.2 L880.8,494.3" fill="none" stroke="#3366FF" stroke-width="2.8"/>
</g>
<rect x="64.3" y="54.3" width="855.2" height="521.9" fill="none" stroke="#333" stroke-width="1.1"/>
<line x1="60.7" x2="64.3" y1="538.40" y2="538.40" stroke="#333" stroke-width="1.1"/>
<text x="57" y="542.2" font-size="10.8" text-anchor="end" textLength="16.4" lengthAdjust="spacingAndGlyphs" fill="#4d4d4d">0.5</text>
<line x1="60.7" x2="64.3" y1="498.40" y2="498.40" stroke="#333" stroke-width="1.1"/>
<text x="57" y="502.2" font-size="10.8" text-anchor="end" textLength="16.4" lengthAdjust="spacingAndGlyphs" fill="#4d4d4d">1.0</text>
<line x1="60.7" x2="64.3" y1="458.40" y2="458.40" stroke="#333" stroke-width="1.1"/>
<text x="57" y="462.2" font-size="10.8" text-anchor="end" textLength="16.4" lengthAdjust="spacingAndGlyphs" fill="#4d4d4d">1.5</text>
<line x1="60.7" x2="64.3" y1="418.40" y2="418.40" stroke="#333" stroke-width="1.1"/>
<text x="57" y="422.2" font-size="10.8" text-anchor="end" textLength="16.4" lengthAdjust="spacingAndGlyphs" fill="#4d4d4d">2.0</text>
<line x1="60.7" x2="64.3" y1="378.40" y2="378.40" stroke="#333" stroke-width="1.1"/>
<text x="57" y="382.2" font-size="10.8" text-anchor="end" textLength="16.4" lengthAdjust="spacingAndGlyphs" fill="#4d4d4d">2.5</text>
<line x1="60.7" x2="64.3" y1="338.40" y2="338.40" stroke="#333" stroke-width="1.1"/>
<text x="57" y="342.2" font-size="10.8" text-anchor="end" textLength="16.4" lengthAdjust="spacingAndGlyphs" fill="#4d4d4d">3.0</text>
<line x1="60.7" x2="64.3" y1="298.40" y2="298.40" stroke="#333" stroke-width="1.1"/>
<text x="57" y="302.2" font-size="10.8" text-anchor="end" textLength="16.4" lengthAdjust="spacingAndGlyphs" fill="#4d4d4d">3.5</text>
<line x1="60.7" x2="64.3" y1="258.40" y2="258.40" stroke="#333" stroke-width="1.1"/>
<text x="57" y="262.2" font-size="10.8" text-anchor="end" textLength="16.4" lengthAdjust="spacingAndGlyphs" fill="#4d4d4d">4.0</text>
<line x1="60.7" x2="64.3" y1="218.40" y2="218.40" stroke="#333" stroke-width="1.1"/>
<text x="57" y="222.2" font-size="10.8" text-anchor="end" textLength="16.4" lengthAdjust="spacingAndGlyphs" fill="#4d4d4d">4.5</text>
<line x1="60.7" x2="64.3" y1="178.40" y2="178.40" stroke="#333" stroke-width="1.1"/>
<text x="57" y="182.2" font-size="10.8" text-anchor="end" textLength="16.4" lengthAdjust="spacingAndGlyphs" fill="#4d4d4d">5.0</text>
<line x1="60.7" x2="64.3" y1="138.40" y2="138.40" stroke="#333" stroke-width="1.1"/>
<text x="57" y="142.2" font-size="10.8" text-anchor="end" textLength="16.4" lengthAdjust="spacingAndGlyphs" fill="#4d4d4d">5.5</text>
<line x1="60.7" x2="64.3" y1="98.40" y2="98.40" stroke="#333" stroke-width="1.1"/>
<text x="57" y="102.2" font-size="10.8" text-anchor="end" textLength="16.4" lengthAdjust="spacingAndGlyphs" fill="#4d4d4d">6.0</text>
<line x1="60.7" x2="64.3" y1="58.40" y2="58.40" stroke="#333" stroke-width="1.1"/>
<text x="57" y="62.2" font-size="10.8" text-anchor="end" textLength="16.4" lengthAdjust="spacingAndGlyphs" fill="#4d4d4d">6.5</text>
<line x1="116.70" x2="116.70" y1="576.2" y2="579.8" stroke="#333" stroke-width="1.1"/>
<text x="116.70" y="591" font-size="10.8" text-anchor="middle" textLength="13.1" lengthAdjust="spacingAndGlyphs" fill="#4d4d4d">65</text>
<line x1="211.07" x2="211.07" y1="576.2" y2="579.8" stroke="#333" stroke-width="1.1"/>
<text x="211.07" y="591" font-size="10.8" text-anchor="middle" textLength="13.1" lengthAdjust="spacingAndGlyphs" fill="#4d4d4d">70</text>
<line x1="305.45" x2="305.45" y1="576.2" y2="579.8" stroke="#333" stroke-width="1.1"/>
<text x="305.45" y="591" font-size="10.8" text-anchor="middle" textLength="13.1" lengthAdjust="spacingAndGlyphs" fill="#4d4d4d">75</text>
<line x1="399.82" x2="399.82" y1="576.2" y2="579.8" stroke="#333" stroke-width="1.1"/>
<text x="399.82" y="591" font-size="10.8" text-anchor="middle" textLength="13.1" lengthAdjust="spacingAndGlyphs" fill="#4d4d4d">80</text>
<line x1="494.20" x2="494.20" y1="576.2" y2="579.8" stroke="#333" stroke-width="1.1"/>
<text x="494.20" y="591" font-size="10.8" text-anchor="middle" textLength="13.1" lengthAdjust="spacingAndGlyphs" fill="#4d4d4d">85</text>
<line x1="588.58" x2="588.58" y1="576.2" y2="579.8" stroke="#333" stroke-width="1.1"/>
<text x="588.58" y="591" font-size="10.8" text-anchor="middle" textLength="13.1" lengthAdjust="spacingAndGlyphs" fill="#4d4d4d">90</text>
<line x1="682.95" x2="682.95" y1="576.2" y2="579.8" stroke="#333" stroke-width="1.1"/>
<text x="682.95" y="591" font-size="10.8" text-anchor="middle" textLength="13.1" lengthAdjust="spacingAndGlyphs" fill="#4d4d4d">95</text>
<line x1="777.33" x2="777.33" y1="576.2" y2="579.8" stroke="#333" stroke-width="1.1"/>
<text x="777.33" y="591" font-size="10.8" text-anchor="middle" textLength="19.7" lengthAdjust="spacingAndGlyphs" fill="#4d4d4d">100</text>
<line x1="871.70" x2="871.70" y1="576.2" y2="579.8" stroke="#333" stroke-width="1.1"/>
<text x="871.70" y="591" font-size="10.8" text-anchor="middle" textLength="19.7" lengthAdjust="spacingAndGlyphs" fill="#4d4d4d">105</text>
<text x="65" y="44.1" font-size="17.3" textLength="232.5" lengthAdjust="spacingAndGlyphs" fill="#000">National IQ and fertility rate</text>
<text x="491.9" y="606.6" font-size="14.4" text-anchor="middle" textLength="218.5" lengthAdjust="spacingAndGlyphs" fill="#000">National IQ (6 dataset average)</text>
<text x="0" y="0" transform="translate(33.6,315.2) rotate(-90)" font-size="14.4" text-anchor="middle" textLength="164.0" lengthAdjust="spacingAndGlyphs" fill="#000">Fertility rate (2022, UN)</text>
<text x="902.8" y="74.7" font-size="14.4" text-anchor="end" textLength="184.5" lengthAdjust="spacingAndGlyphs" fill="#000">r=-0.72 [CI95: -0.78 -0.65]</text>
<text x="902.8" y="94.5" font-size="14.4" text-anchor="end" textLength="46.7" lengthAdjust="spacingAndGlyphs" fill="#000">n=204</text>
</svg></body></html>
